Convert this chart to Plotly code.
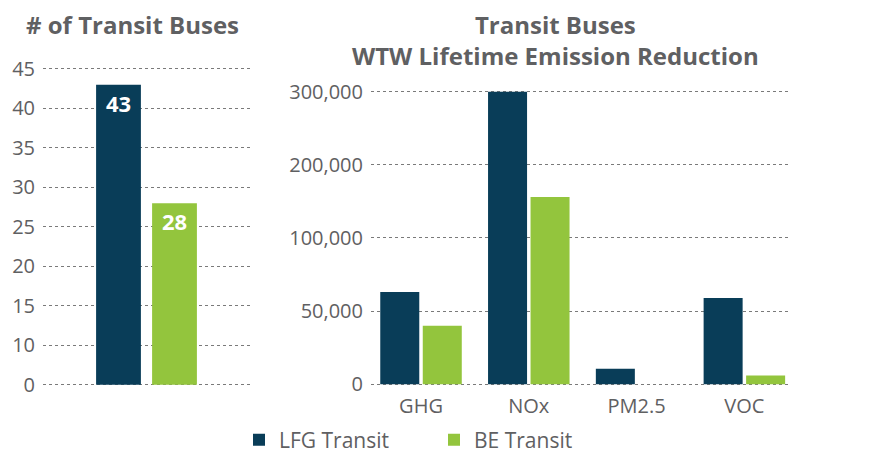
import numpy as np
import plotly.graph_objects as go

# ---- data ----
bus_types = ["LFG Transit", "BE Transit"]
bus_counts = [43, 28]
left_tick_vals = [0, 10, 15, 20, 25, 30, 35, 40, 45]

pollutants = ["GHG", "NOx", "PM2.5", "VOC"]
lfg_reduction = [63000, 300000, 10500, 59000]
be_reduction = [40000, 156000, 0, 6000]
right_tick_vals = [0, 50000, 100000, 200000, 300000]

# ---- style ----
NAVY = "#093D58"
GREEN = "#93C53D"
GRAY = "#5F6062"
GRID = "#7A7A7A"
FONT = "Open Sans"
W, H = 887, 453
OFF = 8  # page body margin offset


def piecewise(values, ticks):
    """Map values onto the chart's evenly spaced (non-linear) tick scale."""
    return np.interp(values, ticks, np.arange(len(ticks)))


def fx(px):
    return (px - OFF) / W


def fy(px):
    return (H - (px - OFF)) / H


fig = go.Figure()

# left chart
fig.add_trace(go.Bar(
    x=bus_types, y=piecewise(bus_counts, left_tick_vals),
    marker=dict(color=[NAVY, GREEN], line=dict(width=0)),
    width=0.8,
    text=[str(v) for v in bus_counts], textposition="inside",
    insidetextanchor="end",
    textfont=dict(family=FONT, size=22, color="white", weight="bold"),
    showlegend=False, hoverinfo="skip",
    xaxis="x", yaxis="y",
))

# right chart
fig.add_trace(go.Bar(
    x=pollutants, y=piecewise(lfg_reduction, right_tick_vals), name="LFG Transit",
    marker=dict(color=NAVY, line=dict(width=0)),
    xaxis="x2", yaxis="y2",
))
fig.add_trace(go.Bar(
    x=pollutants, y=piecewise(be_reduction, right_tick_vals), name="BE Transit",
    marker=dict(color=GREEN, line=dict(width=0)),
    xaxis="x2", yaxis="y2",
))

R0 = 0.03
left_ppu, left_zero, left_top = 39.75, 387.3, 8.3
right_ppu, right_zero, right_top = 73.6, 386.7, 4.15


def ydomain(zero_px, ppu, top):
    return [fy(zero_px + R0 * ppu), fy(zero_px - top * ppu)]


grid_common = dict(showgrid=True, gridcolor=GRID, griddash="dot", gridwidth=1,
                   zeroline=False, showline=False, ticks="", automargin=False,
                   ticklabelstandoff=7,
                   tickfont=dict(size=20, color=GRAY, family=FONT))

fig.update_layout(
    width=W, height=H,
    margin=dict(l=0, r=0, t=0, b=0),
    paper_bgcolor="white", plot_bgcolor="white",
    barmode="group", bargap=0.2115, bargroupgap=0.082,
    font=dict(family=FONT, color=GRAY, size=17),
    xaxis=dict(domain=[fx(43), fx(251)], range=[-1.348, 2.366], automargin=False,
               showticklabels=False, showgrid=False, zeroline=False,
               showline=False, ticks=""),
    yaxis=dict(domain=ydomain(left_zero, left_ppu, left_top),
               range=[-R0, left_top], anchor="x",
               tickvals=list(range(len(left_tick_vals))),
               ticktext=[f"{v:,}" for v in left_tick_vals],
               **grid_common),
    xaxis2=dict(domain=[fx(371), fx(789)], range=[-0.464, 3.414], anchor="y2",
                showgrid=False, zeroline=False, showline=False, ticks="",
                automargin=False, ticklabelstandoff=6,
                tickfont=dict(size=20, color=GRAY, family=FONT)),
    yaxis2=dict(domain=ydomain(right_zero, right_ppu, right_top),
                range=[-R0, right_top], anchor="x2",
                tickvals=list(range(len(right_tick_vals))),
                ticktext=[f"{v:,}" for v in right_tick_vals],
                **grid_common),
    legend=dict(orientation="h", x=fx(239), xanchor="left",
                y=fy(443), yanchor="middle",
                font=dict(size=21, color=GRAY, family=FONT),
                entrywidth=150, entrywidthmode="pixels",
                bgcolor="rgba(0,0,0,0)"),
    annotations=[
        dict(text="<b># of Transit Buses</b>", x=fx(132), y=fy(25),
             xref="paper", yref="paper", showarrow=False,
             xanchor="center", yanchor="middle",
             font=dict(size=24, color=GRAY, family=FONT)),
        dict(text="<b>Transit Buses</b><br><b>WTW Lifetime Emission Reduction</b>",
             x=fx(555), y=fy(40),
             xref="paper", yref="paper", showarrow=False,
             xanchor="center", yanchor="middle", align="center",
             font=dict(size=24, color=GRAY, family=FONT)),
    ],
)

fig.write_html("out.html")
